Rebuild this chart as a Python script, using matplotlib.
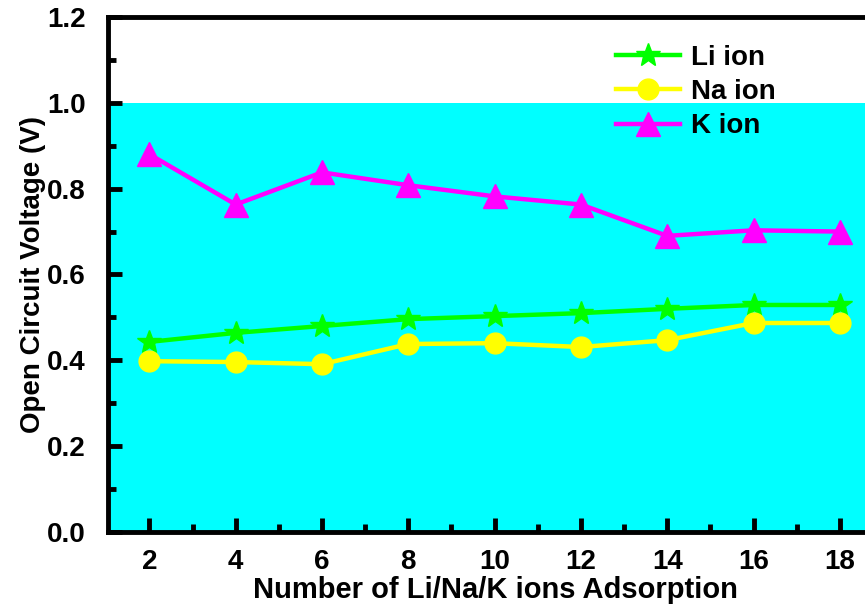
import numpy as np
import matplotlib.pyplot as plt
from matplotlib.ticker import MultipleLocator

plt.rcParams['font.family'] = ['Liberation Sans', 'DejaVu Sans']
plt.rcParams['font.weight'] = 'bold'

ions = [2, 4, 6, 8, 10, 12, 14, 16, 18]
li_ocv = [0.443, 0.464, 0.480, 0.496, 0.503, 0.510, 0.520, 0.529, 0.529]
na_ocv = [0.398, 0.396, 0.391, 0.438, 0.440, 0.431, 0.447, 0.487, 0.487]
k_ocv = [0.880, 0.763, 0.838, 0.808, 0.782, 0.763, 0.690, 0.703, 0.700]

fig = plt.figure(figsize=(8.65, 6.07), dpi=100)
# axes run past the right edge, like the cropped original
ax = fig.add_axes([108/865, 1 - 532/607, 775/865, 515/607])

ax.axhspan(0, 1.0, color='#00FFFF', zorder=0, lw=0)

lw = 3.2
ax.plot(ions, li_ocv, '-', color='#00FF00', lw=lw, marker='*', ms=18, label='Li ion', zorder=3)
ax.plot(ions, na_ocv, '-', color='#FFFF00', lw=lw, marker='o', ms=15, label='Na ion', zorder=3)
ax.plot(ions, k_ocv, '-', color='#FF00FF', lw=lw, marker='^', ms=17, label='K ion', zorder=3)

ax.set_xlim(1.04, 19)
ax.set_ylim(0, 1.2)
ax.set_xticks(ions)
ax.xaxis.set_minor_locator(MultipleLocator(1))
ax.yaxis.set_major_locator(MultipleLocator(0.2))
ax.yaxis.set_minor_locator(MultipleLocator(0.1))
ax.set_yticklabels(['%.1f' % v for v in ax.get_yticks()])

for s in ['left', 'bottom', 'top']:
    ax.spines[s].set_linewidth(3.5)
ax.spines['right'].set_visible(False)
ax.tick_params(which='both', direction='in', width=3.5, labelsize=20)
ax.tick_params(axis='x', which='both', pad=12)
ax.tick_params(axis='y', which='both', pad=16)
ax.tick_params(which='major', length=10)
ax.tick_params(which='minor', length=6)
ax.tick_params(top=False, right=False, which='both')

ax.set_xlabel('Number of Li/Na/K ions Adsorption', fontsize=21, fontweight='bold', labelpad=1)
ax.set_ylabel('Open Circuit Voltage (V)', fontsize=20, fontweight='bold', labelpad=1)

leg = ax.legend(loc='upper left', bbox_to_anchor=(0.623, 0.995), frameon=False,
                fontsize=20, handlelength=2.3, labelspacing=0.3, handletextpad=0.4)

fig.savefig('out.png', dpi=100)
